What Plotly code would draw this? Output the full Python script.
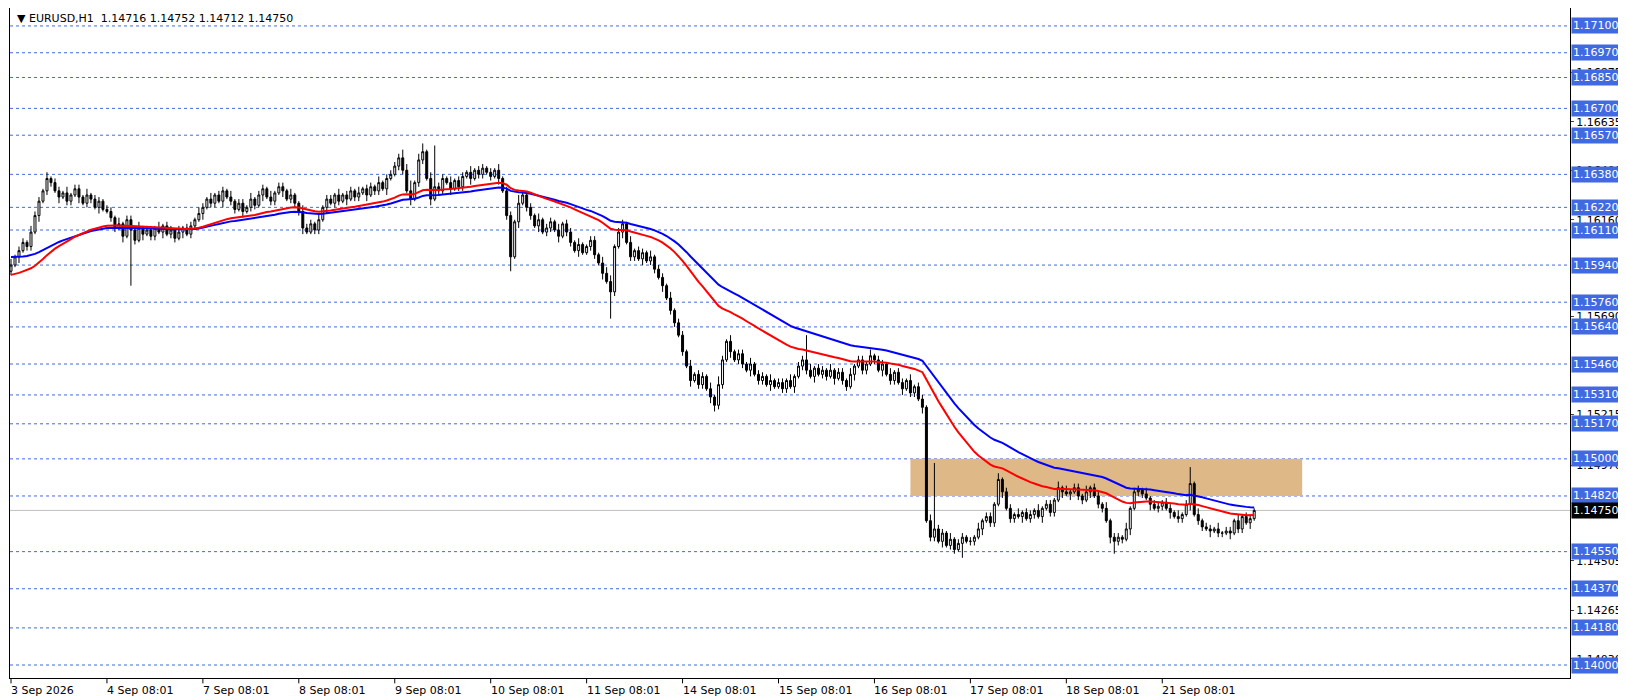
import plotly.graph_objects as go

# hourly closes, one row per trading day (24 bars each)
closes = [
    1.1594, 1.1598, 1.1601, 1.1605, 1.1603, 1.1610, 1.1618, 1.1625, 1.1630, 1.1636, 1.1634, 1.1630,
    1.1627, 1.1629, 1.1625, 1.1628, 1.1631, 1.1627, 1.1624, 1.1628, 1.1626, 1.1622, 1.1625, 1.1621,
    1.1620, 1.1617, 1.1612, 1.1614, 1.1608, 1.1616, 1.1611, 1.1606, 1.1612, 1.1609, 1.1611, 1.1608,
    1.1612, 1.1610, 1.1613, 1.1609, 1.1611, 1.1607, 1.1610, 1.1612, 1.1609, 1.1613, 1.1616, 1.1619,
    1.1622, 1.1626, 1.1624, 1.1628, 1.1625, 1.1630, 1.1627, 1.1625, 1.1621, 1.1624, 1.1620, 1.1622,
    1.1626, 1.1623, 1.1628, 1.1631, 1.1627, 1.1625, 1.1629, 1.1632, 1.1630, 1.1626, 1.1628, 1.1624,
    1.1620, 1.1612, 1.1610, 1.1614, 1.1611, 1.1616, 1.1622, 1.1626, 1.1624, 1.1628, 1.1625, 1.1628,
    1.1626, 1.1630, 1.1627, 1.1629, 1.1631, 1.1628, 1.1632, 1.1630, 1.1634, 1.1631, 1.1636, 1.1638,
    1.1642, 1.1646, 1.1640, 1.1630, 1.1626, 1.1634, 1.1645, 1.1649, 1.1636, 1.1626, 1.1632, 1.1630,
    1.1636, 1.1634, 1.1631, 1.1635, 1.1632, 1.1637, 1.1639, 1.1636, 1.1640, 1.1638, 1.1641, 1.1639,
    1.1637, 1.1640, 1.1636, 1.1630, 1.1618, 1.1598, 1.1615, 1.1624, 1.1628, 1.1622, 1.1618, 1.1613,
    1.1616, 1.1610, 1.1612, 1.1615, 1.1611, 1.1608, 1.1614, 1.1610, 1.1605, 1.1601, 1.1604, 1.1600,
    1.1603, 1.1606, 1.1599, 1.1595, 1.1590, 1.1586, 1.1581, 1.1603, 1.1610, 1.1614, 1.1605, 1.1598,
    1.1601, 1.1597, 1.1600, 1.1596, 1.1598, 1.1592, 1.1588, 1.1584, 1.1578, 1.1572, 1.1566, 1.1560,
    1.1552, 1.1545, 1.1538, 1.1541, 1.1536, 1.1540, 1.1534, 1.1530, 1.1526, 1.1536, 1.1548, 1.1557,
    1.1552, 1.1548, 1.1551, 1.1546, 1.1543, 1.1546, 1.1541, 1.1538, 1.1540, 1.1536, 1.1538, 1.1535,
    1.1537, 1.1534, 1.1538, 1.1535, 1.1540, 1.1545, 1.1548, 1.1543, 1.1540, 1.1544, 1.1541, 1.1543,
    1.1540, 1.1543, 1.1539, 1.1542, 1.1538, 1.1535, 1.1541, 1.1545, 1.1548, 1.1543, 1.1546, 1.1550,
    1.1548, 1.1543, 1.1546, 1.1541, 1.1538, 1.1542, 1.1537, 1.1534, 1.1538, 1.1532, 1.1535, 1.1529,
    1.1525, 1.1470, 1.1462, 1.1466, 1.1460, 1.1464, 1.1458, 1.1461, 1.1456, 1.1459, 1.1462, 1.1460,
    1.1460, 1.1462, 1.1466, 1.1470, 1.1472, 1.1469, 1.1478, 1.1490, 1.1484, 1.1476, 1.1471, 1.1473,
    1.1472, 1.1474, 1.1471, 1.1473, 1.1475, 1.1472, 1.1476, 1.1478, 1.1474, 1.1480, 1.1486, 1.1484,
    1.1483, 1.1484, 1.1486, 1.1482, 1.1480, 1.1484, 1.1486, 1.1482, 1.1478, 1.1476, 1.1470, 1.1462,
    1.1460, 1.1462, 1.1461, 1.1466, 1.1476, 1.1484, 1.1485, 1.1483, 1.1481, 1.1478, 1.1476, 1.1477,
    1.1479, 1.1476, 1.1474, 1.1472, 1.1471, 1.1473, 1.1478, 1.1488, 1.1473, 1.1470, 1.1467, 1.1466,
    1.1465, 1.1466, 1.1464, 1.1464, 1.1465, 1.1464, 1.1470, 1.1466, 1.1472, 1.1469, 1.1471, 1.1475,
]
first_open = 1.1591

# wick lengths in pips, one digit per bar
wick_up = (
    "312213221312213122131221" "221312213122131221312213" "213122131221312213122131"
    "132213122131221312213122" "224351321312213122131221" "213122141221312213122131"
    "122133312213122131221312" "213122131421312213122131" "221312213122131221312213"
    "122131221312213122131221" "213122131221312213122131" "312213122131221312213122"
    "122131221312213122131221"
)
wick_dn = (
    "213122131221312213122131" "122131221312213122131221" "312213122131221312213122"
    "231122131221312213122131" "122131221312213122131221" "213122131221312213122131"
    "122131221312213122131221" "213122131221312213122131" "122131221312213122131221"
    "213122131221312213122131" "221312213122131221312213" "131221312213122131221312"
    "213122131221312213122131"
)
# long shadows: bar index -> extreme price
spike_highs = {103: 1.1653, 106: 1.1652, 199: 1.1560, 231: 1.1498, 295: 1.1496}
spike_lows = {30: 1.1584, 125: 1.1591, 150: 1.1568, 176: 1.1523, 238: 1.1452, 276: 1.1454}

day_labels = ["3 Sep 2026", "4 Sep 08:01", "7 Sep 08:01", "8 Sep 08:01", "9 Sep 08:01",
              "10 Sep 08:01", "11 Sep 08:01", "14 Sep 08:01", "15 Sep 08:01", "16 Sep 08:01",
              "17 Sep 08:01", "18 Sep 08:01", "21 Sep 08:01"]

level_lines = [1.1710, 1.1697, 1.1685, 1.1670, 1.1657, 1.1638, 1.1622, 1.1611, 1.1594, 1.1576,
               1.1564, 1.1546, 1.1531, 1.1517, 1.1500, 1.1482, 1.1455, 1.1437, 1.1418, 1.1400]
scale_ticks = [1.16875, 1.16635, 1.16400, 1.16160, 1.15690, 1.15215, 1.14970, 1.14505, 1.14265, 1.14030]
zone_top, zone_bottom = 1.1500, 1.1482
zone_start, zone_end = 225, 323
last_price = 1.1475
ema_fast_seed, ema_slow_seed = 1.1589, 1.1598

n = len(closes)
x = list(range(n))
opens = [first_open] + closes[:-1]
highs, lows = [], []
for i in range(n):
    hi = max(opens[i], closes[i]) + int(wick_up[i]) * 0.0001
    lo = min(opens[i], closes[i]) - int(wick_dn[i]) * 0.0001
    highs.append(spike_highs.get(i, hi))
    lows.append(spike_lows.get(i, lo))


def ema(values, period, seed):
    k = 2 / (period + 1)
    out, prev = [], seed
    for v in values:
        prev = prev + k * (v - prev)
        out.append(prev)
    return out


label_font = dict(color="white", size=11, family="DejaVu Sans")

fig = go.Figure()
fig.add_shape(type="rect", x0=zone_start, x1=zone_end, y0=zone_bottom, y1=zone_top,
              fillcolor="#deb887", line_width=0, layer="below")
for lv in level_lines:
    fig.add_shape(type="line", xref="paper", x0=0, x1=1, y0=lv, y1=lv,
                  line=dict(color="#4169e1", width=1, dash="3px,3px"), layer="below")
    fig.add_annotation(xref="paper", x=1, y=lv, text=f"{lv:.5f}", showarrow=False,
                       xanchor="left", xshift=1, bgcolor="#4169e1", borderpad=1,
                       font=label_font)
fig.add_shape(type="line", xref="paper", x0=0, x1=1, y0=last_price, y1=last_price,
              line=dict(color="#c0c0c0", width=1), layer="below")
fig.add_annotation(xref="paper", x=1, y=last_price, text=f"{last_price:.5f}", showarrow=False,
                   xanchor="left", xshift=1, bgcolor="black", borderpad=1, font=label_font)

for d, lab in enumerate(day_labels):
    fig.add_shape(type="line", x0=d * 24, x1=d * 24, yref="paper", y0=0, y1=-0.008,
                  line=dict(color="black", width=1))
    fig.add_annotation(x=d * 24, yref="paper", y=-0.006, text=lab, showarrow=False,
                       xanchor="left", yanchor="top", xshift=-2,
                       font=dict(color="black", size=11, family="DejaVu Sans"))

fig.add_trace(go.Candlestick(
    x=x, open=opens, high=highs, low=lows, close=closes,
    increasing=dict(line=dict(color="black", width=1), fillcolor="white"),
    decreasing=dict(line=dict(color="black", width=1), fillcolor="black"),
    whiskerwidth=0, showlegend=False, hoverinfo="skip",
))
fig.add_trace(go.Scatter(x=x, y=ema(closes, 58, ema_slow_seed), mode="lines",
                         line=dict(color="blue", width=2), showlegend=False))
fig.add_trace(go.Scatter(x=x, y=ema(closes, 40, ema_fast_seed), mode="lines",
                         line=dict(color="red", width=2), showlegend=False))

fig.add_annotation(xref="paper", yref="paper", x=0.003, y=0.997, xanchor="left", yanchor="top",
                   text="▼ EURUSD,H1  1.14716 1.14752 1.14712 1.14750", showarrow=False,
                   font=dict(color="black", size=11, family="DejaVu Sans"))

fig.update_layout(
    width=1626, height=696, margin=dict(l=2, r=64, t=0, b=26),
    paper_bgcolor="white", plot_bgcolor="white",
    font=dict(family="DejaVu Sans", size=11, color="black"),
    xaxis=dict(range=[-0.25, 390], showticklabels=False, showgrid=False,
               showline=True, linecolor="black", mirror=True, zeroline=False,
               rangeslider=dict(visible=False)),
    yaxis=dict(range=[1.13937, 1.17187], side="right", tickvals=scale_ticks,
               tickformat=".5f", ticks="outside", ticklen=3, showgrid=False,
               showline=True, linecolor="black", mirror=True, zeroline=False),
)

fig.write_html("out.html")
